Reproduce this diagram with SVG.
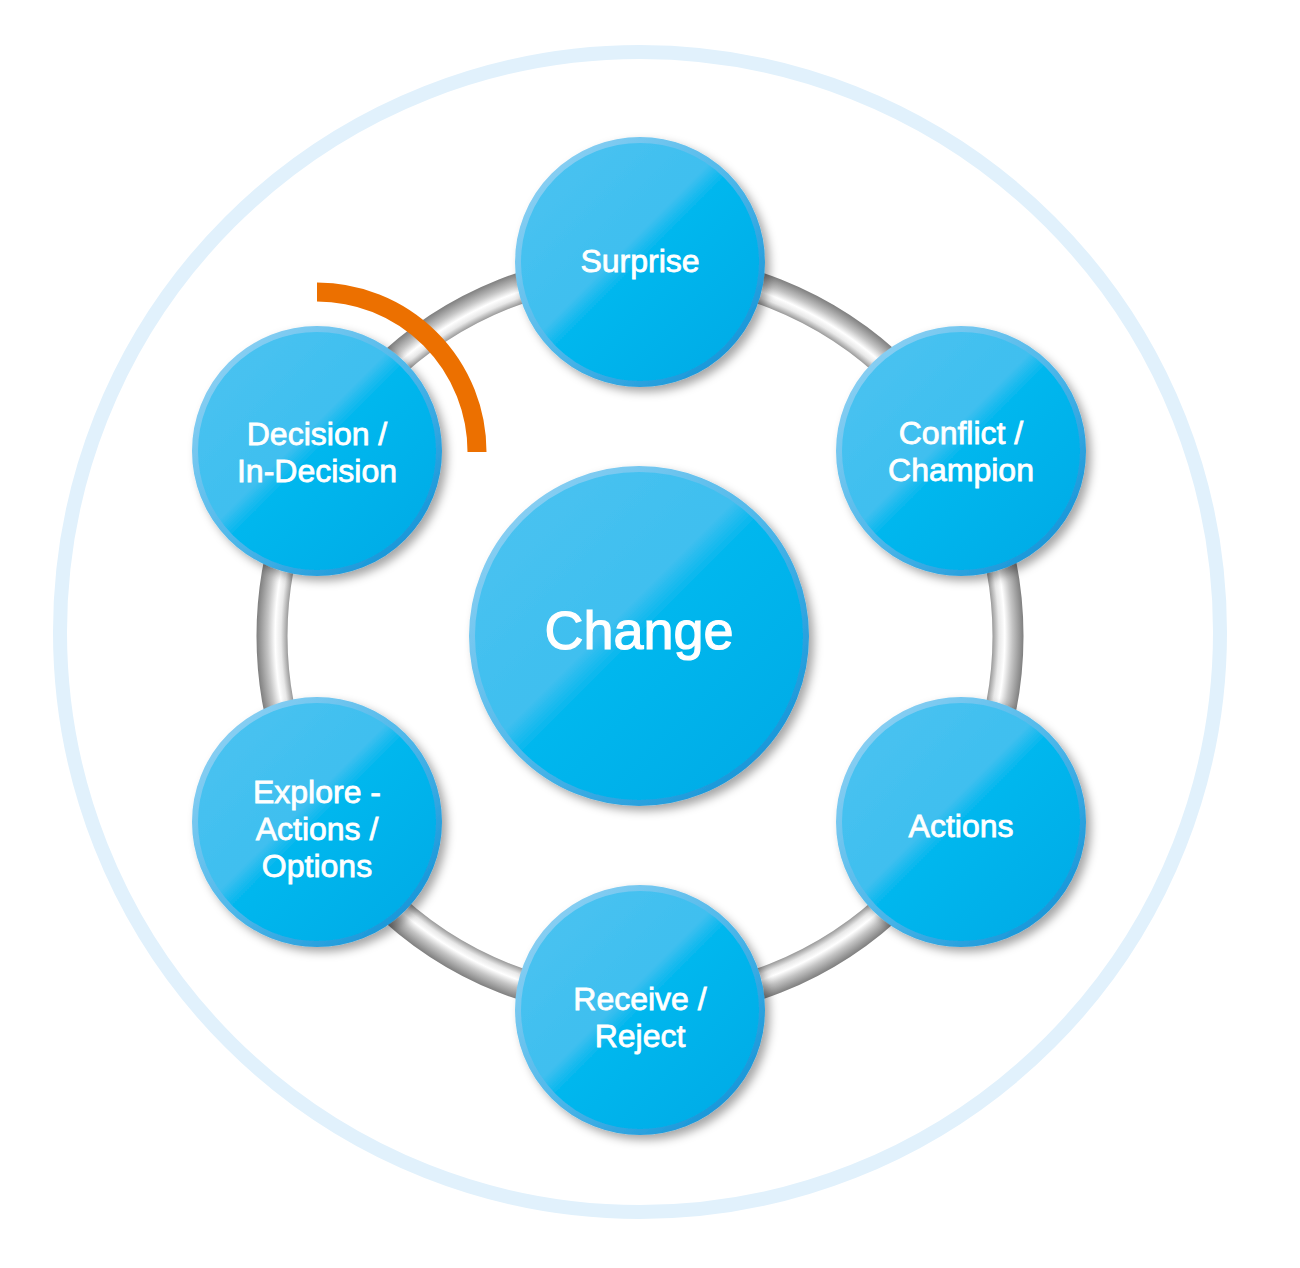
<svg xmlns="http://www.w3.org/2000/svg" width="1300" height="1268" viewBox="0 0 1300 1268">
<defs>
<style>
.lbl{font-family:"Liberation Sans",Arial,Helvetica,sans-serif;font-size:32px;fill:#ffffff;stroke:#ffffff;stroke-width:0.8;text-anchor:middle}
.big{font-size:54px;stroke-width:1.2}
.node{fill:url(#nodeFill);stroke:url(#nodeEdge);stroke-width:6;filter:url(#shadow)}
</style>
<linearGradient id="nodeFill" x1="0" y1="0" x2="1" y2="1">
<stop offset="0" stop-color="#4cc3f1"/>
<stop offset="0.44" stop-color="#3fbfef"/>
<stop offset="0.5" stop-color="#02b7ee"/>
<stop offset="1" stop-color="#00a9e5"/>
</linearGradient>
<linearGradient id="nodeEdge" x1="0" y1="0" x2="1" y2="1">
<stop offset="0" stop-color="#9bd6f5"/>
<stop offset="0.5" stop-color="#4fb8ea"/>
<stop offset="1" stop-color="#068bd3"/>
</linearGradient>
<radialGradient id="tube" gradientUnits="userSpaceOnUse" cx="640" cy="636" r="384">
<stop offset="0.918" stop-color="#9a9a9a"/>
<stop offset="0.935" stop-color="#e8e8e8"/>
<stop offset="0.95" stop-color="#ffffff"/>
<stop offset="0.97" stop-color="#c4c4c4"/>
<stop offset="1" stop-color="#7c7c7c"/>
</radialGradient>
<filter id="shadow" x="-20%" y="-20%" width="150%" height="150%">
<feDropShadow dx="5" dy="5" stdDeviation="5" flood-color="#000" flood-opacity="0.35"/>
</filter>
</defs>
<rect width="1300" height="1268" fill="#ffffff"/>
<circle cx="640" cy="632" r="580" fill="none" stroke="#e1f1fc" stroke-width="14"/>
<g id="connectors">
<circle cx="640" cy="636" r="368" fill="none" stroke="url(#tube)" stroke-width="31"/>
<path d="M317 292 A160 160 0 0 1 477 452" fill="none" stroke="#ec7000" stroke-width="19"/>
</g>
<g id="node-change">
<circle class="node" cx="639" cy="636" r="167"/>
<text class="lbl big" x="639" y="649">Change</text>
</g>
<g id="node-surprise">
<circle class="node" cx="640" cy="262" r="122"/>
<text class="lbl" x="640" y="272">Surprise</text>
</g>
<g id="node-conflict">
<circle class="node" cx="961" cy="451" r="122"/>
<text class="lbl" x="961" y="444">Conflict /</text>
<text class="lbl" x="961" y="481">Champion</text>
</g>
<g id="node-actions">
<circle class="node" cx="961" cy="822" r="122"/>
<text class="lbl" x="961" y="837">Actions</text>
</g>
<g id="node-receive">
<circle class="node" cx="640" cy="1010" r="122"/>
<text class="lbl" x="640" y="1010">Receive /</text>
<text class="lbl" x="640" y="1047">Reject</text>
</g>
<g id="node-explore">
<circle class="node" cx="317" cy="822" r="122"/>
<text class="lbl" x="317" y="803">Explore -</text>
<text class="lbl" x="317" y="840">Actions /</text>
<text class="lbl" x="317" y="877">Options</text>
</g>
<g id="node-decision">
<circle class="node" cx="317" cy="451" r="122"/>
<text class="lbl" x="317" y="445">Decision /</text>
<text class="lbl" x="317" y="482">In-Decision</text>
</g>
</svg>
